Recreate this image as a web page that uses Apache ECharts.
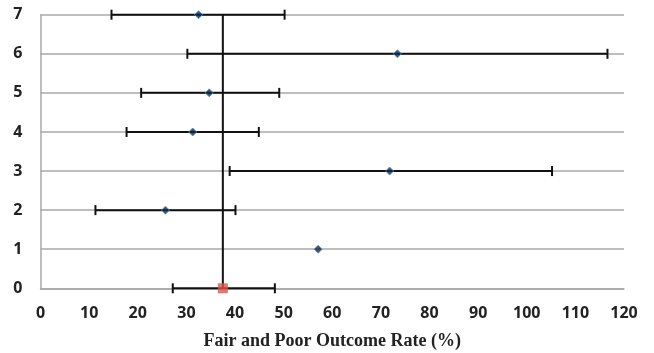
<!DOCTYPE html>
<html><head><meta charset="utf-8">
<script src="https://cdn.jsdelivr.net/npm/echarts@6/dist/echarts.min.js"></script>
<style>html,body{margin:0;padding:0;background:#fff}#c{width:654px;height:353px}</style>
</head><body><div id="c"></div>
<script>
// Study rows (y positions), point estimates, CI bounds
var studyRows   = [1, 2, 3, 4, 5, 6, 7];
var studyRates  = [57.1, 25.7, 71.8, 31.3, 34.7, 73.4, 32.5];
var ciRows      = [2, 3, 4, 5, 6, 7];
var ciLow       = [11.3, 38.9, 17.7, 20.7, 30.2, 14.6];
var ciHigh      = [40.1, 105.2, 44.9, 49.1, 116.6, 50.2];
var pooledRow   = 0;
var pooledRate  = 37.5;
var pooledLow   = 27.2;
var pooledHigh  = 48.2;
var xTicks = [0,10,20,30,40,50,60,70,80,90,100,110,120];
var yTicks = [0,1,2,3,4,5,6,7];

var studyData = studyRows.map(function(r,i){return [studyRates[i], r];});
var errData = ciRows.map(function(r,i){return [r, ciLow[i], ciHigh[i]];});
errData.push([pooledRow, pooledLow, pooledHigh]);

var chart = echarts.init(document.getElementById('c'), null, {renderer:'canvas'});
chart.setOption({
  animation:false,
  grid:{left:40.5, right:30, top:14.7, bottom:64.7, containLabel:false, outerBoundsMode:'none'},
  xAxis:{type:'value', min:xTicks[0], max:xTicks[xTicks.length-1], interval:10,
    name:'Fair and Poor Outcome Rate (%)', nameLocation:'middle', nameGap:44,
    nameTextStyle:{fontFamily:'Liberation Serif', fontWeight:'bold', fontSize:18, color:'#222'},
    axisLine:{show:true, onZero:false, lineStyle:{color:'#a8a8a8', width:1.5}},
    axisTick:{show:false}, splitLine:{show:false},
    axisLabel:{fontFamily:'Open Sans', fontWeight:'bold', fontSize:16, color:'#222', margin:17}},
  yAxis:{type:'value', min:yTicks[0], max:yTicks[yTicks.length-1], interval:1,
    axisLine:{show:true, lineStyle:{color:'#a8a8a8', width:1.5}},
    axisTick:{show:false},
    splitLine:{show:true, lineStyle:{color:'#a8a8a8', width:1.5}},
    axisLabel:{fontFamily:'Open Sans', fontWeight:'bold', fontSize:16, color:'#222', margin:18}},
  series:[
    {type:'line', data:[[pooledRate, yTicks[0]],[pooledRate, yTicks[yTicks.length-1]]],
     symbol:'none', lineStyle:{color:'#111', width:2}, z:2},
    {type:'custom', z:3,
     renderItem:function(params, api){
       var y = api.value(0), lo = api.value(1), hi = api.value(2);
       var p1 = api.coord([lo, y]), p2 = api.coord([hi, y]);
       var h = 5;
       var st = {stroke:'#111', lineWidth:2};
       return {type:'group', children:[
         {type:'line', shape:{x1:p1[0],y1:p1[1],x2:p2[0],y2:p2[1]}, style:st},
         {type:'line', shape:{x1:p1[0],y1:p1[1]-h,x2:p1[0],y2:p1[1]+h}, style:st},
         {type:'line', shape:{x1:p2[0],y1:p2[1]-h,x2:p2[0],y2:p2[1]+h}, style:st}
       ]};
     },
     encode:{x:[1,2], y:0},
     data:errData},
    {type:'scatter', data:studyData, symbol:'diamond', symbolSize:8, z:4,
     itemStyle:{color:'#0b2a4d', borderColor:'#5b8ec4', borderWidth:1}},
    {type:'scatter', data:[[pooledRate, pooledRow]], symbol:'rect', symbolSize:10, z:5,
     itemStyle:{color:'#d9574a'}}
  ]
});
</script></body></html>
